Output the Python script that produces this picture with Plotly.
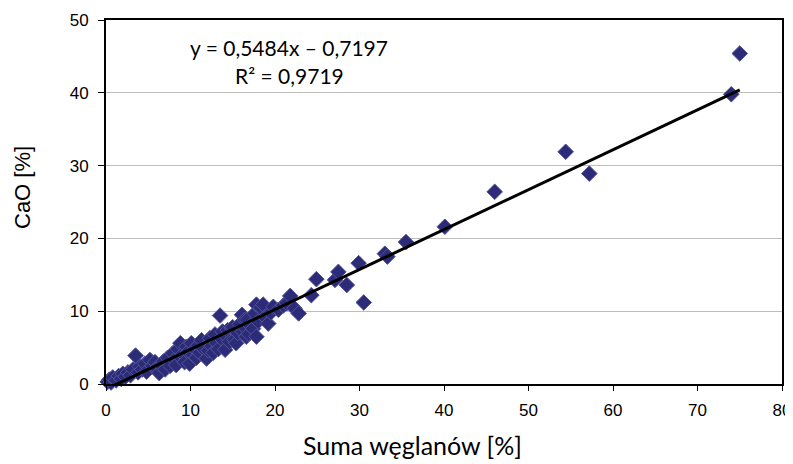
import plotly.graph_objects as go

# Suma weglanow [%] vs CaO [%]
weglany = [0.2, 0.4, 0.6, 0.8, 1.2, 1.5, 1.8, 2.0, 2.3, 2.6, 2.9,
           3.2, 3.5, 3.8, 4.0, 4.3, 4.6, 4.8, 5.2, 5.5, 5.8, 6.0, 6.3,
           6.5, 6.8, 7.0, 7.3, 7.6, 7.9, 8.1, 8.3, 8.5, 8.8, 8.9, 9.1, 9.3, 9.5, 9.7, 9.9,
           10.1, 10.3, 10.5, 10.7, 10.9, 11.1, 11.3, 11.5, 11.9, 12.1, 12.3, 12.5, 12.7,
           12.9, 13.1, 13.3, 13.5, 13.6, 13.8, 14.1,
           14.2, 14.4, 14.6, 14.9, 15.0, 15.2, 15.4, 15.6, 15.8, 16.1, 16.2, 16.4, 16.5,
           16.6, 16.7, 16.9, 17.1, 17.4, 17.6, 17.8, 17.8, 18.0, 18.3, 18.6, 18.8, 19.2,
           19.5, 19.8, 20.4, 21.0, 21.4, 21.8, 22.3, 22.8,
           24.3, 24.9, 27.1, 27.5, 28.5, 29.9, 30.5, 33.0, 33.3, 35.5, 40.1, 46.0,
           54.4, 57.2, 74.0, 75.0]
cao = [0.3, 0.6, 0.2, 0.9, 0.5, 1.1, 0.7, 1.4, 1.0, 1.6, 1.2,
       2.0, 3.9, 1.6, 2.4, 2.0, 2.8, 1.7, 3.3, 2.5, 3.0, 2.2, 1.5,
       2.6, 3.1, 2.0, 3.6, 2.5, 4.2, 3.3, 2.6, 4.8, 5.6, 3.6, 4.1, 3.0, 5.1, 4.4, 2.8,
       5.6, 4.0, 4.8, 3.6, 5.3, 4.3, 6.0, 4.9, 3.5, 4.6, 6.3, 5.2, 4.3,
       6.8, 5.6, 4.8, 9.4, 6.3, 7.2, 4.7,
       6.6, 7.4, 5.8, 7.7, 7.8, 6.1, 5.6, 7.0, 8.2, 9.5, 7.2, 8.8, 7.7,
       6.5, 8.8, 6.9, 8.0, 7.6, 9.7, 10.9, 6.5, 8.6, 10.5, 10.9, 9.2, 8.3,
       9.8, 10.6, 10.2, 10.8, 11.1, 12.1, 10.4, 9.7,
       12.2, 14.4, 14.3, 15.4, 13.6, 16.6, 11.2, 17.9, 17.5, 19.5, 21.6, 26.4,
       31.9, 28.9, 39.8, 45.4]

# linia trendu (Excel)
a = 0.5484
b = -0.7197
rownanie = 'y = 0,5484x \u2013 0,7197'
r2 = 'R\u00b2 = 0,9719'

xt = [min(weglany), max(weglany)]
yt = [a * v + b for v in xt]

# page has an 8px body margin, so the figure is a bit smaller and shifted
OFF = 8
W, H = 793 - OFF, 464 - OFF
L, R, T, B = 106 - OFF, 11, 20 - OFF, 80
pw, ph = W - L - R, H - T - B
left, bottom = L + OFF, T + OFF + ph   # plot area in page pixels


def px(x):  # page pixel -> paper x
    return (x - left) / pw


def py(y):
    return (bottom - y) / ph


fig = go.Figure()
fig.add_trace(go.Scatter(
    x=weglany, y=cao, mode='markers', cliponaxis=False,
    marker=dict(symbol='diamond', size=12, color='#2B2B77',
                line=dict(color='#54549A', width=1))))
fig.add_trace(go.Scatter(x=xt, y=yt, mode='lines',
                         line=dict(color='black', width=3)))

axis_font = dict(family='Liberation Sans, Arial', size=17, color='black')
fig.update_xaxes(range=[0, 80], dtick=10, showgrid=False, zeroline=False, automargin=False,
                 showline=True, linecolor='black', linewidth=2, mirror=True,
                 ticks='outside', ticklen=5, tickcolor='black', tickfont=axis_font,
                 ticklabelstandoff=5)
fig.update_yaxes(range=[0, 50], dtick=10, showgrid=True, gridcolor='#BDBDBD', gridwidth=1,
                 zeroline=False, showline=True, linecolor='black', linewidth=2, mirror=True,
                 automargin=False,
                 ticks='outside', ticklen=6, tickcolor='black', tickfont=axis_font,
                 ticklabelstandoff=6)

calibri = 'Lato, Carlito, Calibri, sans-serif'
fig.update_layout(
    width=W, height=H,
    margin=dict(l=L, r=R, t=T, b=B, autoexpand=False),
    paper_bgcolor='white', plot_bgcolor='white',
    showlegend=False,
    annotations=[
        dict(text=rownanie, x=px(289), y=py(48), xref='paper', yref='paper',
             xanchor='center', yanchor='middle',
             showarrow=False, font=dict(family=calibri, size=21, color='black')),
        dict(text=r2, x=px(289), y=py(75), xref='paper', yref='paper',
             xanchor='center', yanchor='middle',
             showarrow=False, font=dict(family=calibri, size=21, color='black')),
        dict(text='Suma w\u0119glan\u00f3w [%]', x=px(412), y=py(445),
             xref='paper', yref='paper', yanchor='middle', xanchor='center',
             showarrow=False, font=dict(family=calibri, size=25, color='black')),
        dict(text='CaO [%]', x=px(22), y=py(188), textangle=-90,
             xref='paper', yref='paper', yanchor='middle', xanchor='center',
             showarrow=False, font=dict(family='Liberation Sans, Arial', size=22, color='black')),
    ])

fig.write_html("out.html")
